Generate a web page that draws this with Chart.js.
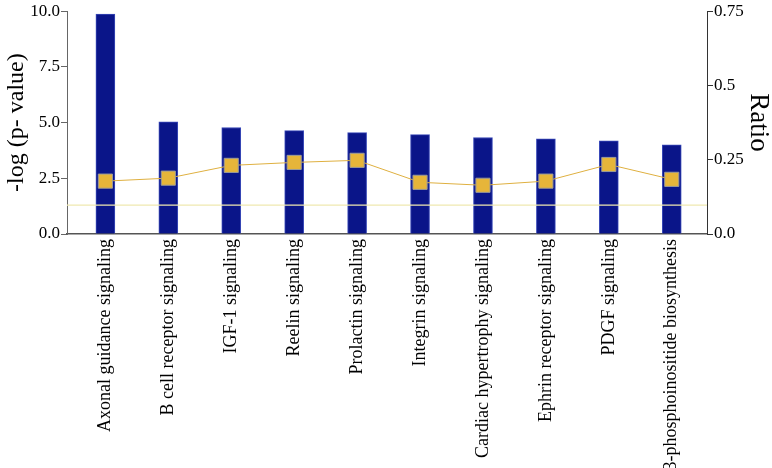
<!DOCTYPE html>
<html>
<head>
<meta charset="utf-8">
<script src="https://cdn.jsdelivr.net/npm/chart.js@4.4.1/dist/chart.umd.min.js"></script>
<style>
html,body{margin:0;padding:0;background:#fff;}
#wrap{width:772px;height:468px;position:relative;}
</style>
</head>
<body>
<div id="wrap"><canvas id="c" width="772" height="468"></canvas></div>
<script>
const categories = [
  "Axonal guidance signaling",
  "B cell receptor signaling",
  "IGF-1 signaling",
  "Reelin signaling",
  "Prolactin signaling",
  "Integrin signaling",
  "Cardiac hypertrophy signaling",
  "Ephrin receptor signaling",
  "PDGF signaling",
  "3-phosphoinositide biosynthesis"
];
const negLogP = [9.87, 5.04, 4.78, 4.64, 4.55, 4.46, 4.33, 4.27, 4.18, 4.00];
const ratio = [0.178, 0.188, 0.231, 0.241, 0.248, 0.174, 0.164, 0.178, 0.234, 0.184];
const threshold = 1.3;
const leftTicks = [0, 2.5, 5, 7.5, 10];
const rightTicks = [0, 0.25, 0.5, 0.75];

const FONT = "'Liberation Serif', 'Times New Roman', serif";

const thresholdPlugin = {
  id: 'threshold',
  afterDatasetsDraw(chart) {
    const y = chart.scales.y.getPixelForValue(threshold);
    const a = chart.chartArea;
    const ctx = chart.ctx;
    ctx.save();
    ctx.strokeStyle = '#efe9b0';
    ctx.lineWidth = 1.2;
    ctx.beginPath();
    ctx.moveTo(a.left, y);
    ctx.lineTo(a.right, y);
    ctx.stroke();
    ctx.restore();
  }
};

new Chart(document.getElementById('c'), {
  data: {
    datasets: [
      {
        type: 'line',
        data: ratio.map((v, i) => ({x: i, y: v})),
        yAxisID: 'y1',
        borderColor: '#dfb040',
        borderWidth: 1,
        pointStyle: 'rect',
        pointRadius: 10,
        pointBackgroundColor: '#e6b53a',
        pointBorderColor: '#9a9a9a',
        pointBorderWidth: 1,
        order: 0
      },
      {
        type: 'bar',
        data: negLogP.map((v, i) => ({x: i, y: v})),
        yAxisID: 'y',
        backgroundColor: '#0a1589',
        borderColor: '#3a4ab8',
        borderWidth: 1,
        borderSkipped: 'bottom',
        barThickness: 19,
        order: 1
      }
    ]
  },
  options: {
    responsive: false,
    animation: false,
    devicePixelRatio: 1,
    layout: {padding: {top: 10, left: 0, right: 0, bottom: 0}},
    plugins: {legend: {display: false}, tooltip: {enabled: false}},
    scales: {
      x: {
        type: 'linear',
        offset: false,
        min: -0.61,
        max: 9.56,
        afterBuildTicks: (s) => { s.ticks = categories.map((_, i) => ({value: i})); },
        afterFit: (s) => { s.height = 234; },
        grid: {display: true, offset: false, drawOnChartArea: false, drawTicks: false, color: '#555'},
        border: {display: true, color: '#555', width: 1.5},
        ticks: {
          autoSkip: false,
          minRotation: 90,
          maxRotation: 90,
          padding: 5,
          color: '#000',
          font: {family: FONT, size: 18},
          callback: (v) => categories[v]
        }
      },
      y: {
        position: 'left',
        min: 0,
        max: 10,
        afterBuildTicks: (s) => { s.ticks = leftTicks.map(v => ({value: v})); },
        afterFit: (s) => { s.width = 67; },
        grid: {drawOnChartArea: false, drawTicks: true, tickLength: 6, color: '#666'},
        border: {display: true, color: '#666', width: 1},
        ticks: {
          padding: 1,
          color: '#000',
          font: {family: FONT, size: 17},
          callback: (v) => v.toFixed(1)
        },
        title: {
          display: true,
          text: '-log (p- value)',
          color: '#000',
          font: {family: FONT, size: 24, lineHeight: 1},
          padding: {top: 5, bottom: 0}
        }
      },
      y1: {
        position: 'right',
        min: 0,
        max: 0.75,
        afterBuildTicks: (s) => { s.ticks = rightTicks.map(v => ({value: v})); },
        afterFit: (s) => { s.width = 65; },
        grid: {drawOnChartArea: false, drawTicks: true, tickLength: 6, color: '#333'},
        border: {display: true, color: '#333', width: 1},
        ticks: {
          padding: 1,
          color: '#000',
          font: {family: FONT, size: 17},
          callback: (v) => v === 0 ? '0.0' : String(v)
        },
        title: {
          display: true,
          text: 'Ratio',
          color: '#000',
          font: {family: FONT, size: 27, lineHeight: 1},
          padding: {top: 0, bottom: 0}
        }
      }
    }
  },
  plugins: [thresholdPlugin]
});
</script>
</body>
</html>
